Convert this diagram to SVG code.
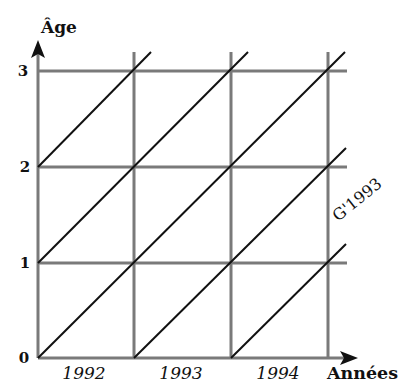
<svg xmlns="http://www.w3.org/2000/svg" width="400" height="383" viewBox="0 0 400 383">
<defs>
<style>
.grid{stroke:#7a7a7a;stroke-width:3;fill:none}
.diag{stroke:#111;stroke-width:2;fill:none}
.lab{font-family:"DejaVu Serif","Liberation Serif",serif;fill:#111}
.num{font-size:15px;font-weight:bold;text-anchor:middle}
.yr{font-size:17px;font-style:italic;text-anchor:middle}
.ax{font-size:17px;font-weight:bold}
</style>
</defs>
<rect width="400" height="383" fill="#fff"/>
<g id="grid">
<line class="grid" x1="38" y1="358" x2="345" y2="358"/>
<line class="grid" x1="38" y1="263" x2="347" y2="263"/>
<line class="grid" x1="38" y1="167" x2="347" y2="167"/>
<line class="grid" x1="38" y1="71" x2="347" y2="71"/>
<line class="grid" x1="38" y1="358" x2="38" y2="52"/>
<line class="grid" x1="134" y1="358" x2="134" y2="52"/>
<line class="grid" x1="231" y1="358" x2="231" y2="52"/>
<line class="grid" x1="328" y1="358" x2="328" y2="52"/>
</g>
<g id="axes">
<polygon points="38,40 31,58 38,54 45,58" fill="#111"/>
<polygon points="358,358 340,351 344,358 340,365" fill="#111"/>
</g>
<g id="connectors">
<line class="diag" x1="38" y1="167" x2="151" y2="52"/>
<line class="diag" x1="38" y1="263" x2="248" y2="52"/>
<line class="diag" x1="38" y1="358" x2="345" y2="52"/>
<line class="diag" x1="134" y1="358" x2="346" y2="148"/>
<line class="diag" x1="231" y1="358" x2="346" y2="244"/>
</g>
<g id="labels" class="lab">
<text class="ax" x="41" y="33">Âge</text>
<text class="num" x="23" y="76">3</text>
<text class="num" x="25" y="172">2</text>
<text class="num" x="25" y="268">1</text>
<text class="num" x="24" y="363">0</text>
<text class="yr" x="84" y="379">1992</text>
<text class="yr" x="181" y="379">1993</text>
<text class="yr" x="278" y="379">1994</text>
<text class="ax" x="327" y="379" textLength="71" lengthAdjust="spacingAndGlyphs">Années</text>
<text class="lab" font-size="16" transform="translate(338,222) rotate(-39)">G'1993</text>
</g>
</svg>
